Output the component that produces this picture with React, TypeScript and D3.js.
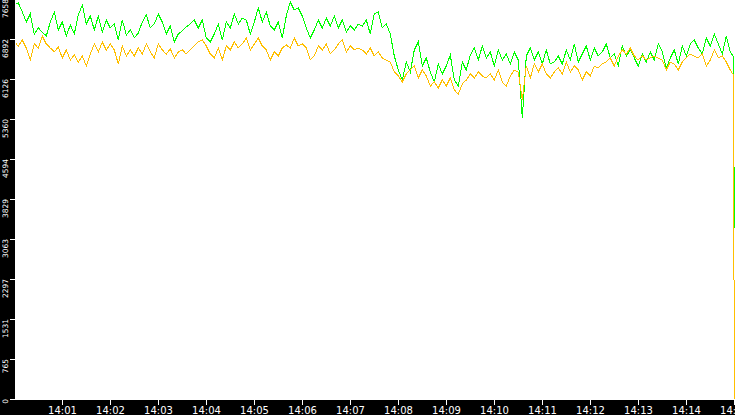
import { useMemo } from "react";
import * as d3 from "d3";

const W = 735;
const H = 415;
const Y_MAX = 7658;
const STEP_SECONDS = 5;

// y axis tick labels, shown floored like the original monitor
const yTickLabels = ["0", "765", "1531", "2297", "3063", "3829", "4594", "5360", "6126", "6892", "7658"];

// sampled every 5 s from 14:00:00 to 14:14:55
const greenValues = [
  7543,
  7582, 7409, 7218, 7371, 6988, 7103, 7026, 6950, 7218, 7409,
  7065, 7218, 6950, 7161, 6988, 7352, 7543, 7180, 7333, 7065,
  7333, 7026, 7256, 7103, 7180, 6873, 7256, 6969, 7065, 6912,
  7007, 7218, 7352, 7103, 7180, 7371, 7218, 6988, 7141, 6835,
  6988, 7046, 7122, 7180, 7256, 7103,
  7256, 6912, 6835, 6988, 7180, 6873, 7218, 7103, 7371, 7180,
  7295, 7256, 6988, 7218, 7486, 7218, 7409, 7141, 7065, 7218,
  6912, 7333, 7601, 7447, 7486, 7333, 7103, 6912, 7065, 7256,
  7103, 7295, 7141, 7333, 7103, 7256, 7026, 7141, 7065, 7180,
  7141, 7256, 6988, 7371, 7409, 7103, 7180, 6988, 6567, 6299,
  6107, 6452, 6261, 6682, 6835, 6375, 6529, 6261, 6069, 6414,
  6222, 6375, 6586, 6107, 5992, 6452, 6299, 6586, 6720, 6490,
  6758, 6529, 6644, 6375, 6682, 6490, 6605, 6414,
  6644, 6490, 5380, 6567, 6720, 6490, 6644, 6414, 6682,
  6414, 6452, 6567, 6414, 6682, 6490, 6797, 6452, 6605, 6758,
  6490, 6720, 6567, 6644, 6797, 6529, 6605, 6375, 6758, 6567,
  6682, 6529, 6375, 6605, 6452, 6644, 6490, 6797, 6644, 6337,
  6529, 6682, 6414, 6758, 6567, 6797, 6873, 6720, 6605, 6912,
  6758, 6988, 6797, 6605, 6950, 6644,
];

const orangeValues = [
  6835,
  6758, 6873, 6720, 6490, 6797, 6720, 6950, 6797, 6720, 6644,
  6739, 6529, 6682, 6490, 6586, 6452, 6567, 6375, 6605, 6797,
  6644, 6835, 6682, 6797, 6682, 6414, 6758, 6567, 6682, 6567,
  6720, 6605, 6797, 6644, 6529, 6797, 6682, 6605, 6701, 6529,
  6644, 6682, 6605, 6682, 6758, 6835,
  6873, 6758, 6605, 6529, 6720, 6490, 6758, 6682, 6835, 6720,
  6797, 6912, 6682, 6797, 6912, 6758, 6682, 6490, 6644, 6567,
  6720, 6778, 6720, 6912, 6758, 6797, 6720, 6490, 6567, 6758,
  6682, 6797, 6605, 6682, 6797, 6873, 6644, 6758, 6682, 6720,
  6682, 6605, 6720, 6567, 6644, 6529, 6490, 6452, 6261, 6184,
  6069, 6222, 6299, 6375, 6146, 6299, 6184, 5992, 6069, 5954,
  6107, 5992, 6146, 5916, 5839, 6031, 6107, 6222, 6146, 6261,
  6184, 6146, 6222, 6107, 6299, 6069, 5992, 6184,
  6299, 6261, 5724, 6375, 6146, 6414, 6261, 6414, 6222,
  6146, 6261, 6337, 6222, 6452, 6261, 6375, 6299, 6107, 6261,
  6184, 6375, 6337, 6414, 6452, 6529, 6375, 6567, 6682, 6605,
  6720, 6567, 6490, 6567, 6490, 6529, 6567, 6529, 6490, 6299,
  6452, 6414, 6299, 6452, 6529, 6605, 6567, 6529, 6605, 6375,
  6490, 6682, 6529, 6567, 6452, 6299,
];

// last samples, seconds after 14:00:00, where both series collapse
const tailSeconds = [899, 900];
const greenTail = [6550, 3270];
const orangeTail = [6200, 0];

const seriesColors = ["#00ff00", "#ffbf00"];

type Pt = { t: Date; v: number };

export default function App() {
  const start = new Date(2000, 0, 1, 14, 0, 0);
  const end = new Date(2000, 0, 1, 14, 15, 0);

  const plot = { left: 15, top: 0, right: W, bottom: 400 };

  const x = d3.scaleTime().domain([start, end]).range([14.3, 734.3]);
  const y = d3.scaleLinear().domain([0, Y_MAX]).range([399, -1]);

  const series = useMemo(() => {
    const build = (vals: number[], tail: number[]): Pt[] => [
      ...vals.map((v, i) => ({ t: new Date(start.getTime() + i * STEP_SECONDS * 1000), v })),
      ...tail.map((v, i) => ({ t: new Date(start.getTime() + tailSeconds[i] * 1000), v })),
    ];
    return [build(greenValues, greenTail), build(orangeValues, orangeTail)];
  }, []);

  const line = d3
    .line<Pt>()
    .x((d) => x(d.t))
    .y((d) => y(d.v));

  const xTicks = x.ticks(d3.timeMinute.every(1)!).filter((t) => t.getMinutes() > 0);
  const fmt = d3.timeFormat("%H:%M");

  return (
    <svg
      width={W}
      height={H}
      style={{ position: "absolute", left: 0, top: 0, display: "block" }}
      fontFamily="'DejaVu Sans', sans-serif"
    >
      <rect x={0} y={0} width={W} height={H} fill="#000" />
      <rect
        x={plot.left}
        y={plot.top}
        width={plot.right - plot.left}
        height={plot.bottom - plot.top}
        fill="#fff"
      />
      <defs>
        <clipPath id="plotClip">
          <rect x={plot.left + 1} y={plot.top} width={plot.right - plot.left} height={plot.bottom - plot.top} />
        </clipPath>
      </defs>

      <g clipPath="url(#plotClip)">
        {series.map((pts, si) => (
          <path
            key={si}
            d={line(pts) ?? ""}
            fill="none"
            stroke={seriesColors[si]}
            strokeWidth={1}
            shapeRendering="crispEdges"
          />
        ))}
      </g>

      {/* y axis */}
      {yTickLabels.map((lab, i) => {
        const ty = Math.round(y((i * Y_MAX) / 10)) + 0.5;
        return (
          <g key={lab}>
            <line x1={10} x2={15} y1={ty} y2={ty} stroke="#fff" strokeWidth={1} />
            <text
              transform={`translate(7.5,${ty - 0.5}) rotate(-90)`}
              textAnchor="end"
              fill="#fff"
              fontSize={7.5}
            >
              {lab}
            </text>
          </g>
        );
      })}

      {/* x axis */}
      {xTicks.map((t) => {
        const tx = Math.round(x(t)) + 0.5;
        return (
          <g key={t.getTime()}>
            <line x1={tx} x2={tx} y1={400} y2={405} stroke="#fff" strokeWidth={1} />
            <text x={tx} y={414} textAnchor="middle" fill="#fff" fontSize={10}>
              {fmt(t)}
            </text>
          </g>
        );
      })}
    </svg>
  );
}
